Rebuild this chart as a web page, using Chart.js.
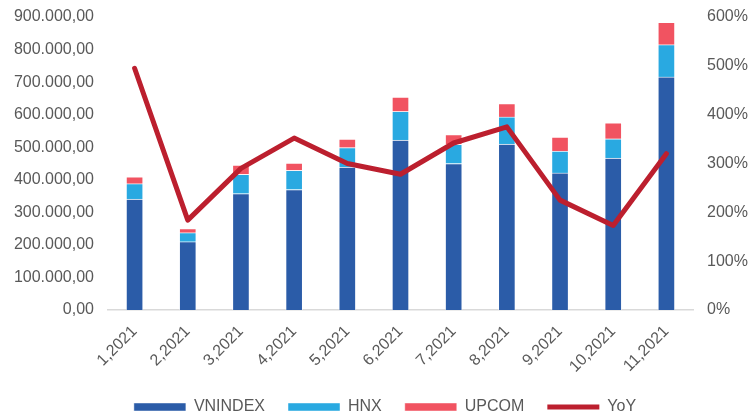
<!DOCTYPE html>
<html>
<head>
<meta charset="utf-8">
<script src="https://cdn.jsdelivr.net/npm/chart.js@4"></script>
<style>
  html, body { margin: 0; padding: 0; background: #fff; }
  #wrap { width: 752px; height: 412px; }
</style>
</head>
<body>
<div id="wrap"><canvas id="graph" width="752" height="412"></canvas></div>
<script>
// months on x axis
const labels = ['1,2021', '2,2021', '3,2021', '4,2021', '5,2021', '6,2021', '7,2021', '8,2021', '9,2021', '10,2021', '11,2021'];

// stacked bar values (left axis)
const vnindex = [341000, 210000, 357500, 370000, 439000, 522000, 450000, 510000, 421000, 467000, 716000];
const hnx = [47000, 27500, 59500, 59000, 60000, 88000, 59000, 83000, 67000, 59000, 99000];
const upcom = [21000, 12500, 28500, 22000, 26000, 44000, 30000, 41000, 43000, 49000, 69000];

// YoY line (right axis, percent)
const yoy = [495, 184, 290, 352, 300, 278, 342, 375, 225, 173, 320];

const TEXT = '#595959';
const FONT = { family: '"Liberation Sans", Arial, sans-serif', size: 16 };

function fmtVN(v) {
    // 900000 -> 900.000,00
    const s = Math.round(v).toString().replace(/\B(?=(\d{3})+(?!\d))/g, '.');
    return s + ',00';
}

// legend sits a bit right of the canvas centre in the original
const legendShift = {
    id: 'legendShift',
    afterLayout(c) {
        c.legend.left += 9;
        c.legend.right += 9;
    }
};

const graph = document.getElementById('graph');

const chart = new Chart(graph, {
    type: 'bar',
    data: {
        labels: labels,
        datasets: [
            {
                label: 'VNINDEX',
                data: vnindex,
                backgroundColor: '#2B5CA8',
                borderColor: 'rgba(255,255,255,0.45)',
                borderWidth: 1,
                yAxisID: 'y',
                order: 1,
                pointStyle: 'rect',
            },
            {
                label: 'HNX',
                data: hnx,
                backgroundColor: '#29A9E1',
                borderColor: 'rgba(255,255,255,0.45)',
                borderWidth: 1,
                yAxisID: 'y',
                order: 1,
                pointStyle: 'rect',
            },
            {
                label: 'UPCOM',
                data: upcom,
                backgroundColor: '#F15361',
                borderColor: 'rgba(255,255,255,0.45)',
                borderWidth: 1,
                yAxisID: 'y',
                order: 1,
                pointStyle: 'rect',
            },
            {
                type: 'line',
                label: 'YoY',
                data: yoy,
                borderColor: '#BC1F2E',
                backgroundColor: '#BC1F2E',
                borderWidth: 5,
                borderCapStyle: 'round',
                borderJoinStyle: 'round',
                pointRadius: 0,
                pointStyle: 'line',
                tension: 0,
                yAxisID: 'y1',
                order: 0,
            },
        ]
    },
    plugins: [legendShift],
    options: {
        responsive: false,
        animation: false,
        events: [],
        layout: { padding: { top: 17, left: 0, right: 0, bottom: -13 } },
        datasets: {
            bar: { barThickness: 17 }
        },
        scales: {
            x: {
                stacked: true,
                grid: { display: false },
                border: { display: true, color: '#D9D9D9', width: 1.5 },
                ticks: {
                    color: TEXT,
                    font: FONT,
                    minRotation: 45,
                    maxRotation: 45,
                    padding: 4,
                },
                afterFit: (axis) => { axis.height = 66; },
            },
            y: {
                stacked: true,
                position: 'left',
                min: 0,
                max: 900000,
                grid: { display: false },
                border: { display: false },
                ticks: {
                    stepSize: 100000,
                    color: TEXT,
                    font: FONT,
                    padding: 6,
                    callback: (v) => fmtVN(v),
                },
                afterFit: (axis) => { axis.width = 108; },
            },
            y1: {
                position: 'right',
                min: 0,
                max: 600,
                grid: { display: false },
                border: { display: false },
                ticks: {
                    stepSize: 100,
                    color: TEXT,
                    font: FONT,
                    padding: 6,
                    callback: (v) => v + '%',
                },
                afterFit: (axis) => { axis.width = 59; },
            },
        },
        plugins: {
            tooltip: { enabled: false },
            legend: {
                position: 'bottom',
                labels: {
                    color: TEXT,
                    font: FONT,
                    usePointStyle: true,
                    pointStyleWidth: 52,
                    boxHeight: 8,
                    padding: 23,
                    sort: (a, b) => a.datasetIndex - b.datasetIndex,
                },
            },
        },
    },
});
</script>
</body>
</html>
